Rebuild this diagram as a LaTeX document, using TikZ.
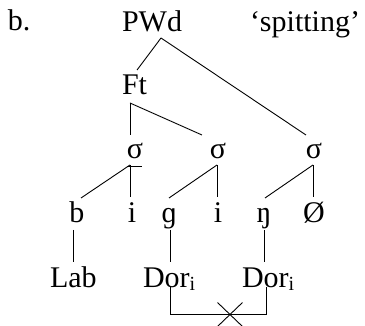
\documentclass[tikz,border=0pt]{standalone}
\usepackage{fontspec}
\setmainfont{Liberation Serif}
\usetikzlibrary{shapes.misc}
\tikzset{
  lbl/.style={inner sep=0pt, outer sep=0pt, font=\fontsize{30}{36}\selectfont},
  edge/.style={line width=0.9pt},
}
\newcommand{\subi}{\raisebox{-3pt}{\fontsize{20}{20}\selectfont i}}
\begin{document}
\begin{tikzpicture}[x=1pt,y=-1pt]
\useasboundingbox (0,0) rectangle (365,326);
% top row
\node[lbl, anchor=base west] (lb) at (8,31) {b.};
\node[lbl, anchor=base west] (pwd) at (122,32) {PWd};
\node[lbl, anchor=base west] (gloss) at (250,32) {‘spitting’};
\node[lbl, anchor=base west] (ft) at (122,95) {Ft};
% syllables
\node[lbl, anchor=base] (s1) at (135,159) {σ};
\node[lbl, anchor=base] (s2) at (218,159) {σ};
\node[lbl, anchor=base] (s3) at (314,159) {σ};
% segments
\node[lbl, anchor=base] (b) at (77,223) {b};
\node[lbl, anchor=base] (i1) at (132,223) {i};
\node[lbl, anchor=base] (g) at (169,223) {ɡ};
\node[lbl, anchor=base] (i2) at (218,223) {i};
\node[lbl, anchor=base] (ng) at (264,223) {ŋ};
\node[lbl, anchor=base] (oe) at (314,223) {Ø};
% features
\node[lbl, anchor=base west] (lab) at (50,288) {Lab};
\node[lbl, anchor=base west] (dor1) at (143,288) {Dor\subi};
\node[lbl, anchor=base west] (dor2) at (242,288) {Dor\subi};
% connectors
\draw[edge] ([shift={(9,6)}]pwd.base) -- ([shift={(2.5,-25)}]ft.base);
\draw[edge] ([shift={(9,6)}]pwd.base) -- ([shift={(-8,-24)}]s3.base);
\draw[edge] ([shift={(8,8)}]ft.base west) -- ([shift={(-5,-24)}]s1.base);
\draw[edge] ([shift={(8,8)}]ft.base west) -- ([shift={(-16,-24)}]s2.base);
\draw[edge] ([shift={(-5,6)}]s1.base) -- ([shift={(4,-25)}]b.base);
\draw[edge] ([shift={(-5,6)}]s1.base) -- ([shift={(-2,-26)}]i1.base);
\draw[edge] ([shift={(-8,7)}]s1.base) -- ([shift={(7,7)}]s1.base);
\draw[edge] ([shift={(-1,6)}]s2.base) -- ([shift={(0,-25)}]g.base);
\draw[edge] ([shift={(-1,6)}]s2.base) -- ([shift={(-1,-26)}]i2.base);
\draw[edge] ([shift={(-1,6)}]s3.base) -- ([shift={(1,-25)}]ng.base);
\draw[edge] ([shift={(-1,6)}]s3.base) -- ([shift={(-1,-26)}]oe.base);
\draw[edge] ([shift={(-4,7)}]b.base) -- ([shift={(23,-26)}]lab.base west);
\draw[edge] ([shift={(1,7)}]g.base) -- ([shift={(27,-26)}]dor1.base west);
\draw[edge] ([shift={(0,7)}]ng.base) -- ([shift={(22,-26)}]dor2.base west);
\draw[edge] ([shift={(27,-1)}]dor1.base west) -- ([shift={(27,26)}]dor1.base west)
  -| ([shift={(24,-1)}]dor2.base west);
\node[cross out, draw, edge, minimum width=24pt, minimum height=23pt, inner sep=0pt] (cx) at (230,314.5) {};
\end{tikzpicture}
\end{document}
